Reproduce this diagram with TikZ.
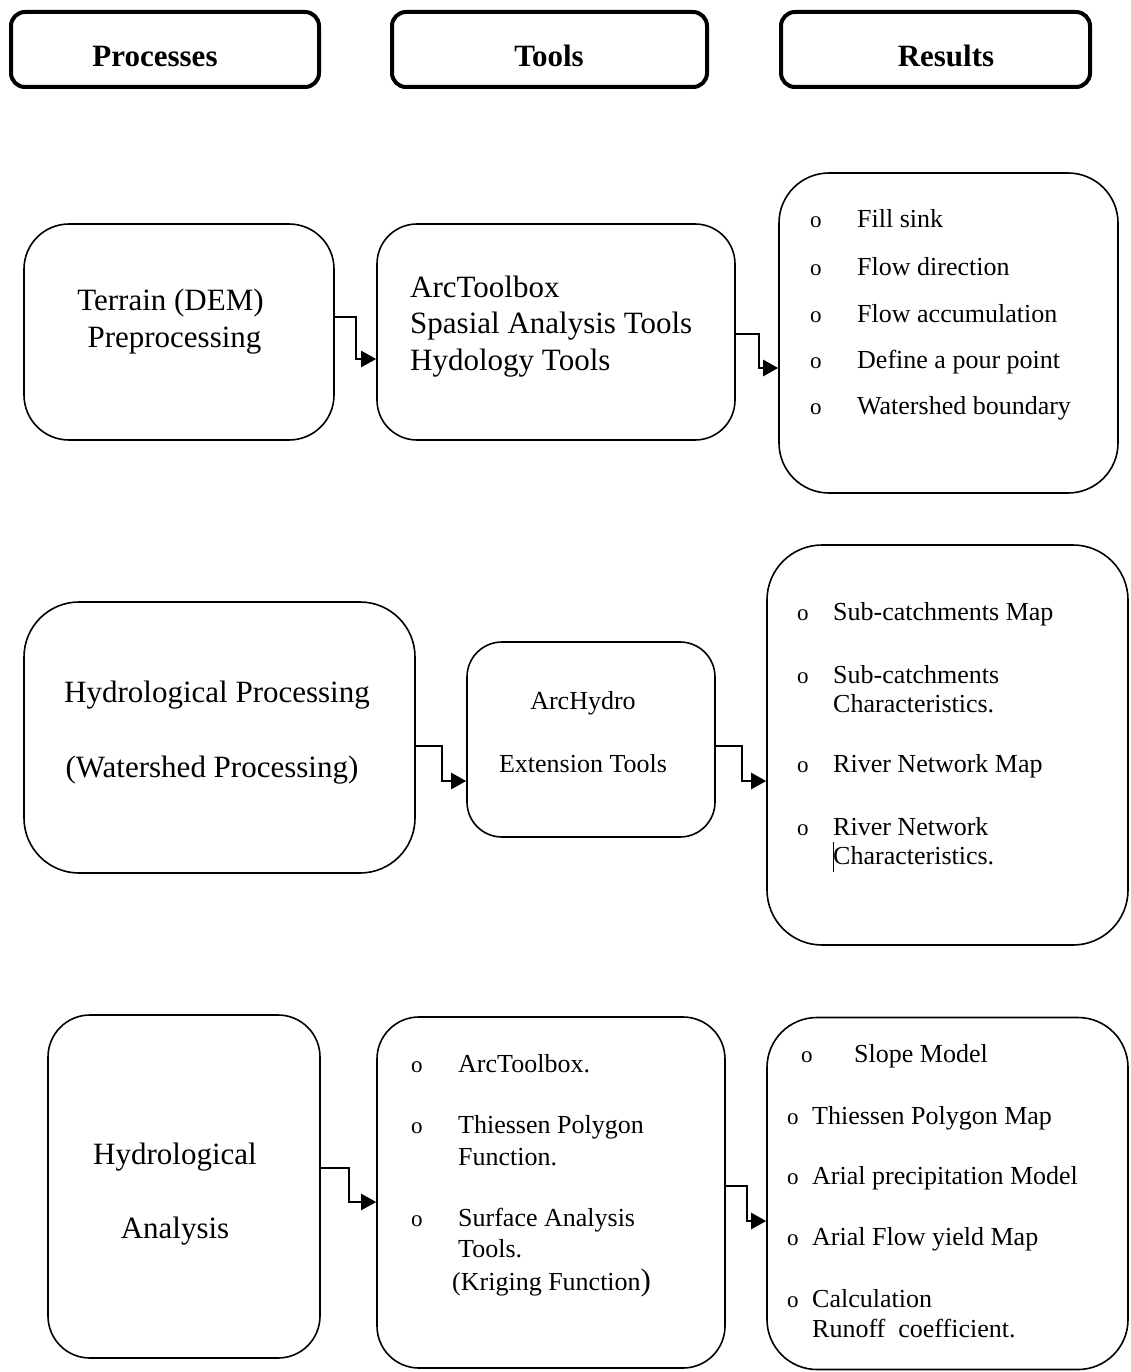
\documentclass[tikz,border=0pt]{standalone}
\usepackage{fontspec}
\setmainfont{Liberation Serif}
\usetikzlibrary{arrows.meta}
\begin{document}
\begin{tikzpicture}[x=1pt,y=-1pt,
  hdr/.style={draw, line width=4pt, rounded corners=14pt, inner sep=0pt},
  box/.style={draw, line width=1.6pt, inner sep=0pt},
  conn/.style={line width=2.2pt, -{Triangle[length=15pt,width=16pt]}},
  small/.style={font=\fontsize{26}{30}\selectfont, anchor=base west, inner sep=0pt},
  bigc/.style={font=\fontsize{31}{36}\selectfont, anchor=base, inner sep=0pt},
  bigl/.style={font=\fontsize{31}{36}\selectfont, anchor=base west, inner sep=0pt},
  midc/.style={font=\fontsize{26}{30}\selectfont, anchor=base, inner sep=0pt},
  bul/.style={font=\fontsize{23}{28}\selectfont, anchor=base west, inner sep=0pt},
  head/.style={font=\bfseries\fontsize{31}{36}\selectfont, anchor=base, inner sep=0pt}]
\useasboundingbox (0,0) rectangle (1130,1372);

% header boxes
\node[hdr, minimum width=308pt, minimum height=75pt] (hproc) at (165,49.5) {};
\node[hdr, minimum width=315pt, minimum height=75pt] (htool) at (549.5,49.5) {};
\node[hdr, minimum width=309pt, minimum height=75pt] (hres) at (935.5,49.5) {};
\node[head] (tproc) at (155,67) {Processes};
\node[head] (ttool) at (549,67) {Tools};
\node[head] (tres) at (946,67) {Results};

% row 1
\node[box, rounded corners=45pt, minimum width=310pt, minimum height=216pt] (terrain) at (179,332) {};
\node[box, rounded corners=40pt, minimum width=358pt, minimum height=216pt] (tools1) at (556,332) {};
\node[box, rounded corners=50pt, minimum width=339pt, minimum height=320pt] (res1) at (948.5,333) {};

\node[bigc] (t1a) at (170.5,310) {Terrain (DEM)};
\node[bigc] (t1b) at (174.5,347) {Preprocessing};
\node[bigl] (t2a) at (410,297) {ArcToolbox};
\node[bigl] (t2b) at (410,333) {Spasial Analysis Tools};
\node[bigl] (t2c) at (410,370) {Hydology Tools};

\node[bul] (b1a) at (810,228) {o};
\node[bul] (b1b) at (810,275) {o};
\node[bul] (b1c) at (810,322) {o};
\node[bul] (b1d) at (810,368) {o};
\node[bul] (b1e) at (810,414) {o};
\node[small] (r1a) at (857,228) {Fill sink};
\node[small] (r1b) at (857,275) {Flow direction};
\node[small] (r1c) at (857,322) {Flow accumulation};
\node[small] (r1d) at (857,368) {Define a pour point};
\node[small] (r1e) at (857,414) {Watershed boundary};

\draw[conn] ([yshift=15pt]terrain.east) -- ++(21,0) |- ([yshift=-27pt]tools1.west);
\draw[conn] ([yshift=-2pt]tools1.east) -- ++(23,0) |- ([yshift=-35pt]res1.west);

% row 2
\node[box, rounded corners=55pt, minimum width=391pt, minimum height=271pt] (hydp) at (219.5,737.5) {};
\node[box, rounded corners=35pt, minimum width=248pt, minimum height=195pt] (archy) at (591,739.5) {};
\node[box, rounded corners=55pt, minimum width=361pt, minimum height=400pt] (res2) at (947.5,745) {};

\node[bigc] (h1) at (217,702) {Hydrological Processing};
\node[bigc] (h2) at (212,777) {(Watershed Processing)};
\node[midc] (a1) at (583,709) {ArcHydro};
\node[midc] (a2) at (583,772) {Extension Tools};

\node[bul] (b2a) at (797,620) {o};
\node[bul] (b2b) at (797,683) {o};
\node[bul] (b2c) at (797,772) {o};
\node[bul] (b2d) at (797,835) {o};
\node[small] (r2a) at (833,620) {Sub-catchments Map};
\node[small] (r2b) at (833,683) {Sub-catchments};
\node[small] (r2c) at (833,712) {Characteristics.};
\node[small] (r2d) at (833,772) {River Network Map};
\node[small] (r2e) at (833,835) {River Network};
\node[small] (r2f) at (833,864) {Characteristics.};
\draw[line width=0.8pt] (833,842) -- (833,872);

\draw[conn] ([yshift=-8.5pt]hydp.east) -- ++(26,0) |- ([yshift=-41.5pt]archy.west);
\draw[conn] ([yshift=-6.5pt]archy.east) -- ++(26,0) |- ([yshift=-36pt]res2.west);

% row 3
\node[box, rounded corners=42pt, minimum width=272pt, minimum height=343pt] (hyda) at (184,1186.5) {};
\node[box, rounded corners=42pt, minimum width=348pt, minimum height=351pt] (tools3) at (551,1192.5) {};
\node[box, rounded corners=50pt, minimum width=361pt, minimum height=352pt] (res3) at (947.5,1193.5) {};

\node[bigc] (ha1) at (175,1164) {Hydrological};
\node[bigc] (ha2) at (175,1238) {Analysis};

\node[bul] (b3a) at (411,1072) {o};
\node[bul] (b3b) at (411,1133) {o};
\node[bul] (b3c) at (411,1226) {o};
\node[small] (q1) at (458,1072) {ArcToolbox.};
\node[small] (q2) at (458,1133) {Thiessen Polygon};
\node[small] (q3) at (458,1165) {Function.};
\node[small] (q4) at (458,1226) {Surface Analysis};
\node[small] (q5) at (458,1257) {Tools.};
\node[small] (q6) at (452,1290) {(Kriging Function{\fontsize{31}{31}\selectfont)}};

\node[bul] (b4a) at (801,1062) {o};
\node[bul] (b4b) at (787,1124) {o};
\node[bul] (b4c) at (787,1184) {o};
\node[bul] (b4d) at (787,1245) {o};
\node[bul] (b4e) at (787,1307) {o};
\node[small] (s1) at (854,1062) {Slope Model};
\node[small] (s2) at (812,1124) {Thiessen Polygon Map};
\node[small] (s3) at (812,1184) {Arial precipitation Model};
\node[small] (s4) at (812,1245) {Arial Flow yield Map};
\node[small] (s5) at (812,1307) {Calculation};
\node[small] (s6) at (812,1337) {Runoff~~coefficient.};

\draw[conn] ([yshift=18.5pt]hyda.east) -- ++(28,0) |- ([yshift=-9.5pt]tools3.west);
\draw[conn] ([yshift=6.5pt]tools3.east) -- ++(21,0) |- ([yshift=-27.5pt]res3.west);
\end{tikzpicture}
\end{document}
